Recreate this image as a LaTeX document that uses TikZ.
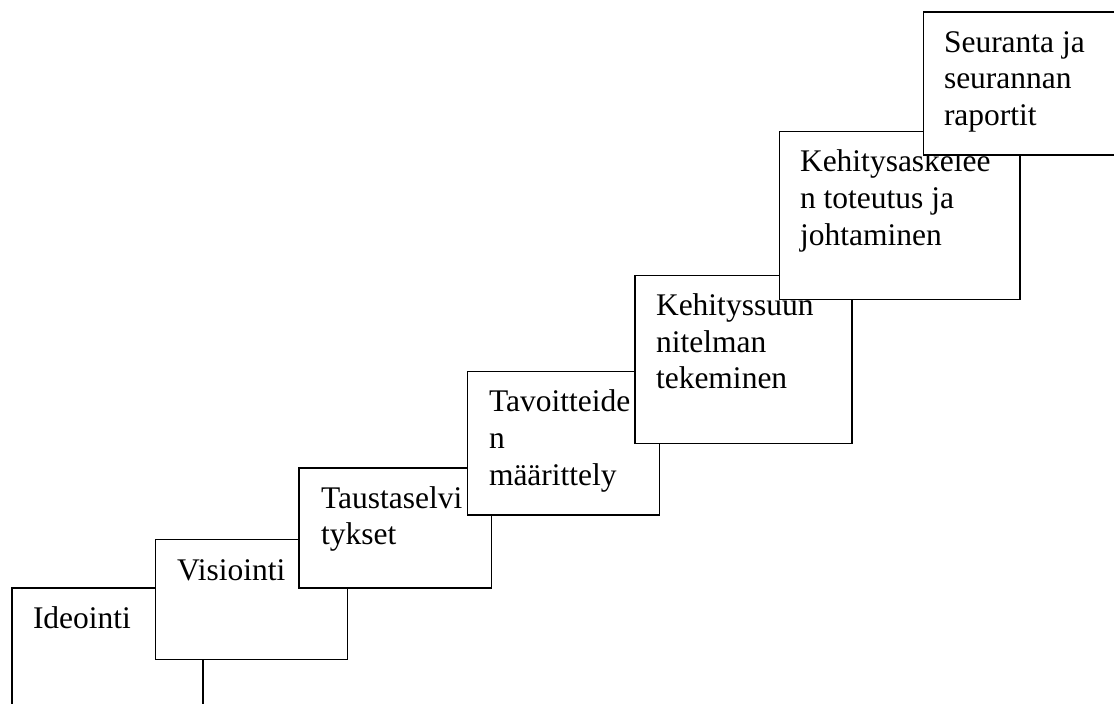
\documentclass[tikz,border=0pt]{standalone}
\usepackage{fontspec}
\setmainfont{Liberation Serif}
\begin{document}
\begin{tikzpicture}[x=1pt,y=-1pt,
  stair/.style={draw=black, fill=white, line width=1.6pt, rectangle,
    anchor=north west, inner sep=0pt, outer sep=0pt},
  txt/.style={anchor=base west, inner sep=0pt, outer sep=0pt,
    font=\fontsize{31.5}{36.7}\selectfont}]
\useasboundingbox (0,0) rectangle (1114,704);
\clip (0,0) rectangle (1114,704);
% step 1
\node[stair, minimum width=191pt, minimum height=124pt] (s1) at (12,588) {};
\node[txt] (t1a) at (33,628) {Ideointi};
% step 2
\node[stair, minimum width=192pt, minimum height=120pt] (s2) at (155.5,539.5) {};
\node[txt] (t2a) at (177,580) {Visiointi};
% step 3
\node[stair, minimum width=192.5pt, minimum height=120pt] (s3) at (299,468) {};
\node[txt] (t3a) at (321,508) {Taustaselvi};
\node[txt] (t3b) at (321,544.7) {tykset};
% step 4
\node[stair, minimum width=192pt, minimum height=143.5pt] (s4) at (467.5,371.5) {};
\node[txt] (t4a) at (489,411.7) {Tavoitteide};
\node[txt] (t4b) at (489,448.4) {n};
\node[txt] (t4c) at (489,485.1) {määrittely};
% step 5
\node[stair, minimum width=217pt, minimum height=168pt] (s5) at (635,275.5) {};
\node[txt] (t5a) at (656,315.3) {Kehityssuun};
\node[txt] (t5b) at (656,352) {nitelman};
\node[txt] (t5c) at (656,388.7) {tekeminen};
% step 6
\node[stair, minimum width=240.5pt, minimum height=168pt] (s6) at (779.5,131.5) {};
\node[txt] (t6a) at (800,171.7) {Kehitysaskelee};
\node[txt] (t6b) at (800,208.4) {n toteutus ja};
\node[txt] (t6c) at (800,245.1) {johtaminen};
% step 7
\node[stair, minimum width=200pt, minimum height=143pt] (s7) at (923.5,12) {};
\node[txt] (t7a) at (944,52) {Seuranta ja};
\node[txt] (t7b) at (944,88.7) {seurannan};
\node[txt] (t7c) at (944,125.4) {raportit};
\end{tikzpicture}
\end{document}
